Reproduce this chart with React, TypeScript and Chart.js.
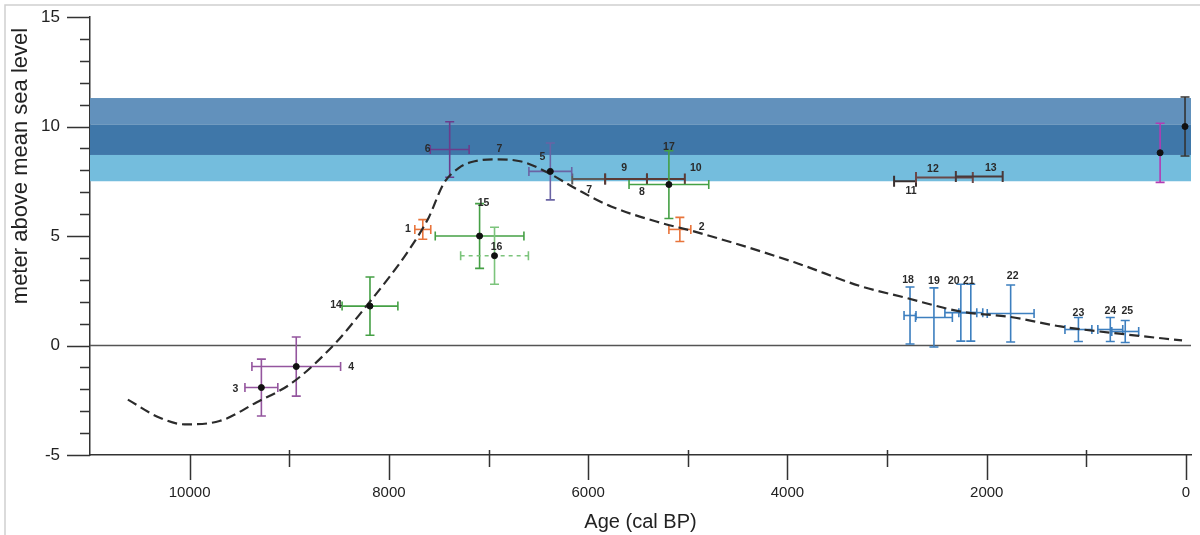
import React, { useEffect, useRef } from 'react';
import { Chart, registerables } from 'chart.js';
Chart.register(...registerables);

// ---------- data ----------
const curveAge = [10620, 10300, 10050, 9700, 9330, 8970, 8530, 8230, 8000, 7800, 7600, 7450, 7300, 7170, 6930, 6670, 6430, 6100, 5770, 5270, 4930, 3930, 3260, 2830, 2260, 1760, 1260, 590, 40];
const curveLevel = [-2.47, -3.3, -3.6, -3.45, -2.6, -1.7, 0.14, 1.78, 3.1, 4.35, 5.85, 7.4, 8.1, 8.38, 8.5, 8.4, 7.95, 7.1, 6.35, 5.6, 5.2, 3.8, 2.7, 2.2, 1.55, 1.3, 0.87, 0.5, 0.23];

const sampleAge = [7660, 5080, 9280, 8930, 8190, 7390, 6380, 7090, 6940, 5190, 2770, 2530, 2260, 2160, 1760, 1080, 760, 610, 260, 10];
const sampleLevel = [5.3, 5.3, -1.92, -0.96, 1.8, 8.95, 7.95, 5.0, 4.1, 7.35, 1.37, 1.28, 1.5, 1.5, 1.46, 0.73, 0.73, 0.64, 8.8, 10.0];
const ageError = [80, 110, 165, 445, 280, 195, 215, 445, 340, 400, 60, 185, 160, 120, 235, 135, 125, 135, 0, 0];
const levelError = [0.45, 0.55, 1.3, 1.35, 1.33, 1.27, 1.3, 1.48, 1.3, 1.55, 1.3, 1.35, 1.3, 1.3, 1.3, 0.55, 0.55, 0.5, 1.35, 1.35];
const sampleType = ['coral', 'coral', 'notch', 'notch', 'peat', 'notchB', 'beach', 'peat', 'peatB', 'peat', 'shell', 'shell', 'shell', 'shell', 'shell', 'shell', 'shell', 'shell', 'notchC', 'terrace'];
const sampleDot = [false, false, true, true, true, false, true, true, true, true, false, false, false, false, false, false, false, false, true, true];

const rangeFrom = [6160, 5830, 5410, 2930, 2710, 2310];
const rangeTo = [5830, 5410, 5030, 2710, 2140, 1840];
const rangeLevel = [7.6, 7.6, 7.6, 7.5, 7.67, 7.72];

const labelText = ['1', '2', '3', '4', '14', '6', '7', '5', '7', '9', '10', '8', '17', '15', '16', '11', '12', '13', '18', '19', '20', '21', '22', '23', '24', '25'];
const labelAge = [7810, 4860, 9540, 8380, 8530, 7610, 6890, 6460, 5990, 5640, 4920, 5460, 5190, 7050, 6920, 2760, 2540, 1960, 2790, 2530, 2330, 2180, 1740, 1080, 760, 590];
const labelLevel = [5.3, 5.4, -2.0, -1.0, 1.83, 8.95, 8.95, 8.6, 7.1, 8.1, 8.1, 7.0, 9.05, 6.5, 4.5, 7.05, 8.05, 8.1, 3.0, 2.95, 2.95, 2.95, 3.15, 1.5, 1.55, 1.55];

const bandLevels = [7.5, 8.7, 10.1, 11.3];

const xTickValues = [10000, 8000, 6000, 4000, 2000, 0];
const xMinorValues = [9000, 7000, 5000, 3000, 1000];
const yTickValues = [-5, 0, 5, 10, 15];

// ---------- styles ----------
const bandColors = ['#74bddd', '#3f77a9', '#6291bc'];
const typeColor: Record<string, string> = {
  coral: '#e8743b',
  notch: '#94559e',
  notchB: '#6b3d8c',
  beach: '#6a64a4',
  peat: '#45a045',
  peatB: '#7cc47c',
  shell: '#3d7fbf',
  notchC: '#b23cb4',
  terrace: '#333333',
};
const rangeColor = ['#5c5c5c', '#5b3b36', '#5b3b36', '#3a3030', '#6a4848', '#4a3838'];

const decor = {
  id: 'decor',
  beforeDatasetsDraw(chart: any) {
    const { ctx, chartArea: a, scales } = chart;
    const x = scales.x, y = scales.y;
    ctx.save();
    for (let i = 0; i < bandColors.length; i++) {
      const top = y.getPixelForValue(bandLevels[i + 1]);
      const bot = y.getPixelForValue(bandLevels[i]);
      ctx.fillStyle = bandColors[i];
      ctx.fillRect(a.left, top, a.right - a.left, bot - top);
    }
    const y0 = y.getPixelForValue(0);
    ctx.strokeStyle = '#555';
    ctx.lineWidth = 1.3;
    ctx.beginPath();
    ctx.moveTo(a.left, y0);
    ctx.lineTo(a.right, y0);
    ctx.stroke();

    const cap = 4.5;
    for (let i = 0; i < rangeFrom.length; i++) {
      const x1 = x.getPixelForValue(rangeFrom[i]);
      const x2 = x.getPixelForValue(rangeTo[i]);
      const yy = y.getPixelForValue(rangeLevel[i]);
      ctx.strokeStyle = rangeColor[i];
      ctx.lineWidth = 2;
      ctx.beginPath();
      ctx.moveTo(x1, yy); ctx.lineTo(x2, yy);
      ctx.moveTo(x1, yy - cap - 1); ctx.lineTo(x1, yy + cap + 1);
      ctx.moveTo(x2, yy - cap - 1); ctx.lineTo(x2, yy + cap + 1);
      ctx.stroke();
    }
    for (let i = 0; i < sampleAge.length; i++) {
      const cx = x.getPixelForValue(sampleAge[i]);
      const cy = y.getPixelForValue(sampleLevel[i]);
      const col = typeColor[sampleType[i]];
      ctx.strokeStyle = col;
      ctx.lineWidth = 1.6;
      if (levelError[i] > 0) {
        const t = y.getPixelForValue(sampleLevel[i] + levelError[i]);
        const b = y.getPixelForValue(sampleLevel[i] - levelError[i]);
        ctx.setLineDash([]);
        ctx.beginPath();
        ctx.moveTo(cx, t); ctx.lineTo(cx, b);
        ctx.moveTo(cx - cap, t); ctx.lineTo(cx + cap, t);
        ctx.moveTo(cx - cap, b); ctx.lineTo(cx + cap, b);
        ctx.stroke();
      }
      if (ageError[i] > 0) {
        const l = x.getPixelForValue(sampleAge[i] + ageError[i]);
        const r = x.getPixelForValue(sampleAge[i] - ageError[i]);
        if (sampleType[i] === 'peatB') ctx.setLineDash([4, 4]);
        ctx.beginPath();
        ctx.moveTo(l, cy); ctx.lineTo(r, cy);
        ctx.stroke();
        ctx.setLineDash([]);
        ctx.beginPath();
        ctx.moveTo(l, cy - cap); ctx.lineTo(l, cy + cap);
        ctx.moveTo(r, cy - cap); ctx.lineTo(r, cy + cap);
        ctx.stroke();
      }
    }
    ctx.restore();
  },
  afterDraw(chart: any) {
    const { ctx, chartArea: a, scales } = chart;
    const x = scales.x, y = scales.y;
    ctx.save();
    ctx.strokeStyle = '#333';
    ctx.lineWidth = 1.5;
    ctx.beginPath();
    for (let v = -5; v <= 15; v++) {
      const py = Math.round(y.getPixelForValue(v)) + 0.5;
      const len = yTickValues.includes(v) ? 23 : 10;
      ctx.moveTo(a.left - len, py);
      ctx.lineTo(a.left, py);
    }
    xTickValues.forEach((v) => {
      const px = Math.round(x.getPixelForValue(v)) + 0.5;
      ctx.moveTo(px, a.bottom);
      ctx.lineTo(px, a.bottom + 25);
    });
    xMinorValues.forEach((v) => {
      const px = Math.round(x.getPixelForValue(v)) + 0.5;
      ctx.moveTo(px, a.bottom - 5);
      ctx.lineTo(px, a.bottom + 12);
    });
    ctx.stroke();

    ctx.fillStyle = '#2a2a2a';
    ctx.font = 'bold 10.5px "Liberation Sans", Arial, sans-serif';
    ctx.textAlign = 'center';
    ctx.textBaseline = 'middle';
    for (let i = 0; i < labelText.length; i++) {
      ctx.fillText(labelText[i], x.getPixelForValue(labelAge[i]), y.getPixelForValue(labelLevel[i]));
    }

    ctx.save();
    ctx.translate(21, 166);
    ctx.rotate(-Math.PI / 2);
    ctx.fillStyle = '#222';
    ctx.font = '22px "Liberation Sans", Arial, sans-serif';
    ctx.textAlign = 'center';
    ctx.textBaseline = 'middle';
    ctx.fillText('meter above mean sea level', 0, 0);
    ctx.restore();

    ctx.strokeStyle = '#d0d0d0';
    ctx.lineWidth = 1.5;
    ctx.beginPath();
    ctx.moveTo(5, 535);
    ctx.lineTo(5, 5);
    ctx.lineTo(1200, 5);
    ctx.stroke();
    ctx.restore();
  },
};

export default function App() {
  const ref = useRef<HTMLCanvasElement | null>(null);
  useEffect(() => {
    if (!ref.current) return;
    const chart = new Chart(ref.current, {
      type: 'scatter',
      data: {
        datasets: [
          {
            type: 'line',
            label: 'Sea-level curve',
            data: curveAge.map((a, i) => ({ x: a, y: curveLevel[i] })),
            borderColor: '#2b2b2b',
            borderWidth: 2.2,
            borderDash: [10, 5],
            pointRadius: 0,
            cubicInterpolationMode: 'monotone',
            fill: false,
            order: 2,
          } as any,
          {
            label: 'Samples',
            data: sampleAge
              .map((a, i) => ({ x: a, y: sampleLevel[i], d: sampleDot[i] }))
              .filter((p) => p.d)
              .map((p) => ({ x: p.x, y: p.y })),
            pointRadius: 3,
            pointBackgroundColor: '#111',
            pointBorderColor: '#111',
            order: 1,
          },
        ],
      },
      options: {
        responsive: false,
        animation: false,
        layout: { padding: { left: 0, top: 17, right: 9, bottom: 0 } },
        plugins: { legend: { display: false }, tooltip: { enabled: false }, title: { display: false } },
        scales: {
          x: {
            type: 'linear',
            reverse: true,
            min: -50,
            max: 11000,
            grid: { display: false, drawTicks: false },
            border: { display: true, color: '#333', width: 1.5 },
            afterBuildTicks: (s: any) => { s.ticks = xTickValues.map((v) => ({ value: v })); },
            afterFit: (s: any) => { s.height = 80; s.paddingLeft = 0; s.paddingRight = 0; },
            ticks: {
              padding: 29,
              color: '#222',
              font: { family: '"Liberation Sans Narrow", "Liberation Sans", Arial, sans-serif', size: 15 },
              callback: (v: any) => String(v),
              maxRotation: 0,
              autoSkip: false,
            },
            title: {
              display: true,
              text: 'Age (cal BP)',
              color: '#222',
              font: { family: '"Liberation Sans", Arial, sans-serif', size: 20 },
              padding: { top: 0, bottom: 1 },
            },
          },
          y: {
            type: 'linear',
            min: -5,
            max: 15,
            grid: { display: false, drawTicks: false },
            border: { display: true, color: '#333', width: 1.5 },
            afterBuildTicks: (s: any) => { s.ticks = yTickValues.map((v) => ({ value: v })); },
            afterFit: (s: any) => { s.width = 90; s.paddingTop = 0; s.paddingBottom = 0; },
            ticks: {
              padding: 30,
              color: '#222',
              font: { family: '"Liberation Sans", Arial, sans-serif', size: 17 },
              callback: (v: any) => String(v),
              autoSkip: false,
            },
          },
        },
      },
      plugins: [decor],
    });
    return () => chart.destroy();
  }, []);
  return (
    <div style={{ position: 'absolute', left: 0, top: 0, width: 1200, height: 535, background: '#fff' }}>
      <canvas ref={ref} width={1200} height={535} />
    </div>
  );
}
